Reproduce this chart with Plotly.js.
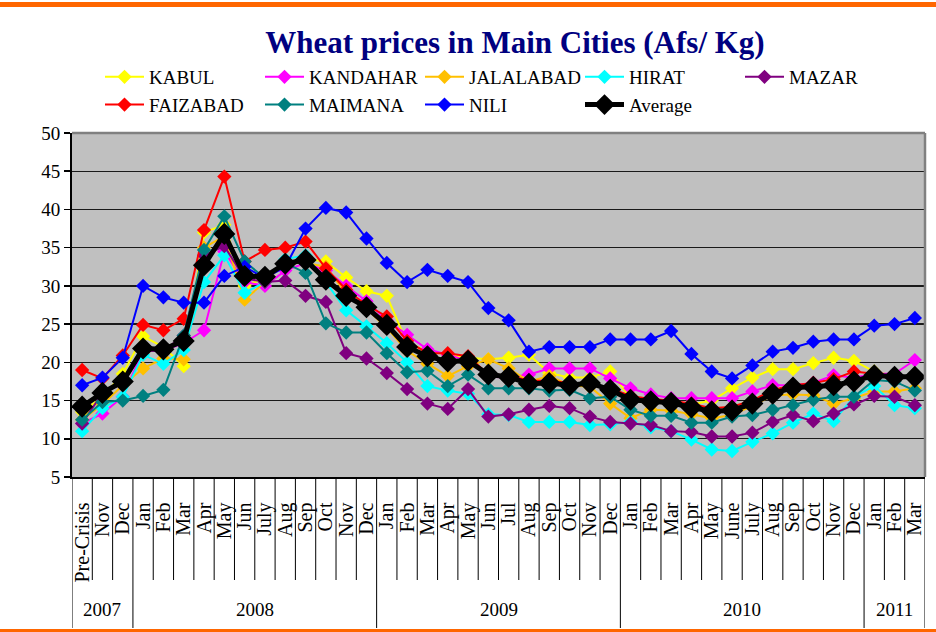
<!DOCTYPE html>
<html>
<head>
<meta charset="utf-8">
<script src="https://cdn.plot.ly/plotly-3.0.1.min.js"></script>
<style>html,body{margin:0;padding:0;background:#fff;}#chart{width:936px;height:632px;}</style>
</head>
<body>
<div id="chart"></div>
<script>
// ---- data ----
const categories = ['Pre-Crisis','Nov','Dec','Jan','Feb','Mar','Apr','May','Jun','July','Aug','Sep','Oct','Nov','Dec',
  'Jan','Feb','Mar','Apr','May','Jun','Jul','Aug','Sep','Oct','Nov','Dec',
  'Jan','Feb','Mar','Apr','May','June','July','Aug','Sep','Oct','Nov','Dec','Jan','Feb','Mar'];
const years = ['2007','2008','2009','2010','2011'];
const yearCounts = [3,12,12,12,3];

const kabul     = [13.5,15.5,18.5,23.4,22.0,19.5,37.0,38.0,30.0,31.0,33.0,33.5,33.2,31.1,29.3,28.7,22.5,21.5,21.0,20.6,20.4,20.6,21.0,18.6,18.0,18.0,18.8,15.3,14.8,14.7,14.5,15.0,16.6,18.0,19.1,19.1,19.9,20.6,20.2,18.8,18.2,17.8];
const kandahar  = [12.0,13.3,15.5,21.5,21.5,22.5,24.2,34.5,30.5,30.0,32.0,33.0,32.0,30.0,28.0,25.5,23.6,21.7,21.0,20.2,18.1,18.0,18.4,19.2,19.2,19.2,17.9,16.6,15.8,15.3,15.3,15.3,15.3,16.2,17.0,17.0,17.3,18.3,18.0,18.5,18.5,20.3];
const jalalabad = [12.5,14.5,17.0,19.2,20.5,20.4,35.0,36.5,28.2,30.5,33.0,33.0,32.5,29.0,27.0,24.5,21.5,19.8,18.2,19.5,20.4,19.2,17.5,18.2,17.0,16.8,14.6,12.7,13.8,13.7,13.2,12.7,13.1,14.3,15.7,15.8,15.7,14.6,15.3,16.2,16.2,16.6];
const hirat     = [11.0,14.0,15.5,21.0,19.8,21.6,30.5,34.0,29.1,30.5,33.5,34.0,30.5,26.8,24.7,22.5,20.0,16.9,16.3,15.9,13.2,13.1,12.2,12.2,12.2,11.8,11.9,12.2,11.5,11.0,9.9,8.6,8.4,9.6,10.7,12.1,13.3,12.3,15.5,16.9,14.4,14.0];
const mazar     = [12.0,16.0,17.2,21.5,21.5,23.5,34.0,35.2,31.0,30.5,30.7,28.7,27.9,21.2,20.5,18.6,16.5,14.6,13.9,16.5,12.9,13.2,13.8,14.3,14.0,12.9,12.2,12.0,11.8,11.0,10.9,10.3,10.3,10.8,12.2,13.1,12.3,13.3,14.5,15.6,15.5,14.4];
const faizabad  = [19.0,17.9,20.9,24.9,24.2,25.7,37.3,44.3,33.2,34.7,35.0,35.8,32.3,29.5,27.5,26.0,22.8,21.2,21.2,20.8,18.4,18.3,17.6,17.6,17.3,17.2,16.6,15.6,15.2,15.0,14.6,14.0,14.2,15.0,16.4,17.0,17.3,17.8,18.8,18.5,18.2,18.2];
const maimana   = [12.5,14.8,15.0,15.6,16.4,23.5,34.7,39.1,33.2,31.0,33.0,31.7,25.1,23.9,23.9,21.2,18.7,18.9,16.9,18.4,16.6,16.6,16.6,16.3,16.4,15.3,15.5,13.8,13.0,13.0,12.1,12.1,12.9,13.1,13.8,14.4,15.1,15.5,15.5,17.7,17.5,16.3];
const nili      = [17.0,18.0,20.6,30.0,28.5,27.8,27.8,31.3,32.5,31.0,32.5,37.5,40.2,39.6,36.2,33.0,30.5,32.1,31.3,30.5,27.1,25.5,21.4,22.0,22.0,22.0,23.0,23.0,23.0,24.1,21.1,18.8,17.9,19.6,21.4,21.9,22.7,23.0,23.0,24.8,25.0,25.8];
const average   = [14.2,16.0,17.5,21.8,21.7,22.8,32.7,36.8,31.3,31.2,32.9,33.4,30.8,28.7,27.2,24.9,22.0,20.8,20.1,20.2,18.4,18.1,17.2,17.3,17.0,17.3,16.4,15.1,14.9,14.7,14.1,13.6,13.7,14.6,15.9,16.7,16.8,17.0,17.5,18.3,18.1,18.1];

const seriesNames = ['KABUL','KANDAHAR','JALALABAD','HIRAT','MAZAR','FAIZABAD','MAIMANA','NILI'];
const seriesValues = [kabul,kandahar,jalalabad,hirat,mazar,faizabad,maimana,nili];
const seriesColors = ['#FFFF00','#FF00FF','#FFC000','#00FFFF','#800080','#FF0000','#008080','#0000FF'];

// ---- geometry (styles) ----
const W = 936, H = 632;
const M = {l: 72, r: 11, t: 133, b: 155};
const plotW = W - M.l - M.r, plotH = H - M.t - M.b;
const py = px => (H - M.b - px) / plotH;   // pixel y -> paper y
const pxX = px => (px - M.l) / plotW;      // pixel x -> paper x

const xIdx = categories.map((_, i) => i);

const traces = seriesNames.map((name, k) => ({
  type: 'scatter', mode: 'lines+markers', name: name,
  x: xIdx, y: seriesValues[k],
  line: {color: seriesColors[k], width: 2},
  marker: {symbol: 'diamond', size: 11, color: seriesColors[k]},
  hoverinfo: 'skip'
}));
traces.push({
  type: 'scatter', mode: 'lines+markers', name: 'Average',
  x: xIdx, y: average,
  line: {color: '#000000', width: 5},
  marker: {symbol: 'diamond', size: 17, color: '#000000'},
  hoverinfo: 'skip'
});

// separators in the category label area
const shapes = [];
const monthEnd = py(580), yearEnd = py(628);
const boundaries = [-0.5];
let acc = -0.5;
yearCounts.forEach(c => { acc += c; boundaries.push(acc); });
for (let i = 0; i < categories.length - 1; i++) {
  const xb = i + 0.5;
  if (boundaries.includes(xb)) continue;
  shapes.push({type: 'line', xref: 'x', yref: 'paper', x0: xb, x1: xb, y0: 0, y1: monthEnd,
    line: {color: '#000', width: 1}});
}
boundaries.forEach(xb => {
  shapes.push({type: 'line', xref: 'x', yref: 'paper', x0: xb, x1: xb, y0: 0, y1: yearEnd,
    line: {color: '#000', width: 1}});
});
// plot frame top/right (gray)
shapes.push({type: 'line', xref: 'paper', yref: 'paper', x0: 0, x1: 1, y0: 1, y1: 1, line: {color: '#808080', width: 2.5}, layer: 'above'});
shapes.push({type: 'line', xref: 'paper', yref: 'paper', x0: 1, x1: 1, y0: 0, y1: 1, line: {color: '#808080', width: 2.5}, layer: 'above'});
// orange page frame
shapes.push({type: 'line', xref: 'paper', yref: 'paper', x0: pxX(0), x1: pxX(W), y0: py(4.5), y1: py(4.5), line: {color: '#FF6600', width: 5}});
shapes.push({type: 'line', xref: 'paper', yref: 'paper', x0: pxX(0), x1: pxX(W), y0: py(630.5), y1: py(630.5), line: {color: '#FF6600', width: 3}});

// year labels
const annotations = [];
let start = -0.5;
years.forEach((yr, k) => {
  const mid = start + yearCounts[k] / 2;
  annotations.push({xref: 'x', yref: 'paper', x: mid, y: py(609), text: yr, showarrow: false,
    xanchor: 'center', yanchor: 'middle', font: {family: 'Liberation Serif', size: 19, color: '#000'}});
  start += yearCounts[k];
});

const layout = {
  width: W, height: H,
  margin: M,
  paper_bgcolor: '#FFFFFF',
  plot_bgcolor: '#C0C0C0',
  showlegend: true,
  title: {
    text: 'Wheat prices in Main Cities (Afs/ Kg)',
    font: {family: 'Liberation Serif', size: 31, color: '#000080', weight: 'bold'},
    xref: 'container', yref: 'container', x: 515 / W, xanchor: 'center', y: 1 - 42 / H, yanchor: 'middle'
  },
  legend: {
    orientation: 'h', xref: 'container', yref: 'container',
    x: 100 / W, xanchor: 'left', y: 1 - 58 / H, yanchor: 'top',
    itemwidth: 39, entrywidth: 106, entrywidthmode: 'pixels',
    font: {family: 'Liberation Serif', size: 19, color: '#000'},
    bgcolor: 'rgba(0,0,0,0)', borderwidth: 0, traceorder: 'normal'
  },
  xaxis: {
    range: [-0.5, categories.length - 0.5],
    tickmode: 'array', tickvals: xIdx, ticktext: categories,
    tickangle: -90, ticks: '', ticklabelstandoff: 16,
    tickfont: {family: 'Liberation Serif', size: 20, color: '#000'},
    showgrid: false, zeroline: false,
    showline: true, linecolor: '#000', linewidth: 1.5,
    fixedrange: true
  },
  yaxis: {
    range: [5, 50], tickmode: 'linear', tick0: 5, dtick: 5,
    showgrid: true, gridcolor: '#1a1a1a', gridwidth: 1.3,
    zeroline: false, showline: true, linecolor: '#000', linewidth: 2,
    ticks: 'outside', ticklen: 6, tickcolor: '#000', tickwidth: 1.5,
    tickfont: {family: 'Liberation Serif', size: 19, color: '#000'},
    fixedrange: true
  },
  shapes: shapes,
  annotations: annotations
};

Plotly.newPlot('chart', traces, layout, {displayModeBar: false, staticPlot: true});
</script>
</body>
</html>
